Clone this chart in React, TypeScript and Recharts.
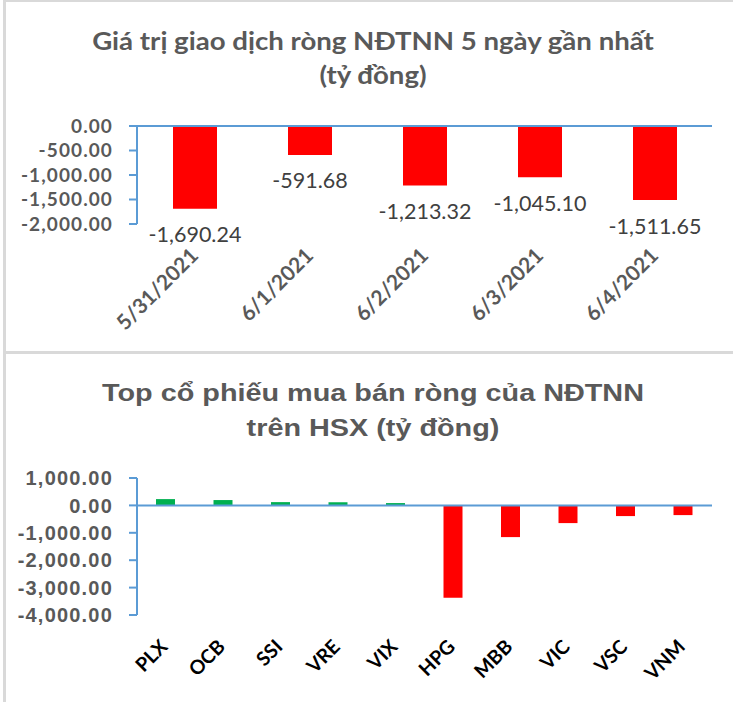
import { BarChart, Bar, XAxis, YAxis, ReferenceLine, LabelList, Cell } from "recharts";

// 5 ngày gần nhất
const days = ["5/31/2021", "6/1/2021", "6/2/2021", "6/3/2021", "6/4/2021"];
const dayValues = [-1690.24, -591.68, -1213.32, -1045.1, -1511.65];
const dayTicks = [0, -500, -1000, -1500, -2000];

// top cổ phiếu HSX
const stocks = ["PLX", "OCB", "SSI", "VRE", "VIX", "HPG", "MBB", "VIC", "VSC", "VNM"];
const stockValues = [230, 195, 120, 115, 85, -3372, -1157, -646, -390, -354];
const stockTicks = [1000, 0, -1000, -2000, -3000, -4000];

const dayData = days.map((d, i) => ({ date: d, value: dayValues[i] }));
const stockData = stocks.map((s, i) => ({ code: s, value: stockValues[i] }));

const AXIS = "#5b9bd5";
const GREY = "#595959";
const fmt = (v: number) =>
  v.toLocaleString("en-US", { minimumFractionDigits: 2, maximumFractionDigits: 2 });

const DateTick = (props: any) => {
  const { x, y, payload } = props;
  const ax = x + 5;
  const ay = y + 33;
  return (
    <text
      x={ax}
      y={ay}
      textAnchor="end"
      transform={`rotate(-45, ${ax}, ${ay})`}
      fill={GREY}
      fontSize={21}
      fontWeight={700}
      fontFamily="Lato"
    >
      {payload.value}
    </text>
  );
};

const CodeTick = (props: any) => {
  const { x, y, payload } = props;
  const ax = x + 3;
  const ay = y + 33;
  return (
    <text
      x={ax}
      y={ay}
      textAnchor="end"
      transform={`rotate(-45, ${ax}, ${ay})`}
      fill="#000"
      fontSize={19.5}
      fontWeight={700}
      fontFamily="Lato"
    >
      {payload.value}
    </text>
  );
};

const ValueLabel = (props: any) => {
  const { x, y, width, height, value } = props;
  const bottom = Math.max(y, y + height);
  return (
    <text
      x={x + width / 2}
      y={bottom + 28}
      textAnchor="middle"
      dominantBaseline="middle"
      fill="#404040"
      fontSize={21.5}
      fontFamily="Lato"
    >
      {fmt(value)}
    </text>
  );
};

export default function App() {
  return (
    <div
      style={{
        position: "absolute",
        left: 0,
        top: 0,
        width: 733,
        height: 702,
        background: "#fff",
        overflow: "hidden",
      }}
    >
      {/* khung */}
      <div style={{ position: "absolute", left: 3, top: 0, width: 3, height: 702, background: "#d9d9d9" }} />
      <div style={{ position: "absolute", left: 3, top: 0, width: 730, height: 2, background: "#d9d9d9" }} />
      <div style={{ position: "absolute", left: 3, top: 351, width: 730, height: 3, background: "#d9d9d9" }} />

      <div
        style={{
          position: "absolute",
          left: 0,
          top: 24,
          width: 746,
          textAlign: "center",
          fontFamily: "Lato",
          fontWeight: 700,
          fontSize: 24,
          lineHeight: "34px",
          color: GREY,
          transform: "scaleX(1.15)",
        }}
      >
        Giá trị giao dịch ròng NĐTNN 5 ngày gần nhất
        <br />
        (tỷ đồng)
      </div>

      <div style={{ position: "absolute", left: 0, top: 0 }}>
        <BarChart width={733} height={351} data={dayData} margin={{ top: 126, right: 21, bottom: 0, left: 0 }}>
          <XAxis
            dataKey="date"
            axisLine={false}
            tickLine={false}
            tickSize={0}
            tickMargin={0}
            height={127}
            interval={0}
            tick={<DateTick />}
          />
          <YAxis
            domain={[-2000, 0]}
            ticks={dayTicks}
            interval={0}
            width={137}
            tickSize={8}
            tickMargin={16}
            axisLine={{ stroke: AXIS, strokeWidth: 2 }}
            tickLine={{ stroke: AXIS, strokeWidth: 2 }}
            tick={{ fill: GREY, fontSize: 19, fontWeight: 700, fontFamily: "Lato", letterSpacing: 1.1 }}
            tickFormatter={fmt}
          />
          <ReferenceLine y={0} stroke={AXIS} strokeWidth={2} />
          <Bar dataKey="value" fill="#ff0000" barSize={44} isAnimationActive={false}>
            <LabelList dataKey="value" content={<ValueLabel />} />
          </Bar>
        </BarChart>
      </div>

      <div
        style={{
          position: "absolute",
          left: 0,
          top: 375,
          width: 746,
          textAlign: "center",
          fontFamily: "Liberation Sans",
          fontWeight: 700,
          fontSize: 24,
          lineHeight: "35px",
          color: GREY,
          transform: "scaleX(1.2)",
        }}
      >
        Top cổ phiếu mua bán ròng của NĐTNN
        <br />
        trên HSX (tỷ đồng)
      </div>

      <div style={{ position: "absolute", left: 0, top: 354 }}>
        <BarChart width={733} height={348} data={stockData} margin={{ top: 124, right: 21, bottom: 0, left: 0 }}>
          <XAxis
            dataKey="code"
            axisLine={false}
            tickLine={false}
            tickSize={0}
            tickMargin={0}
            height={87}
            interval={0}
            tick={<CodeTick />}
          />
          <YAxis
            domain={[-4000, 1000]}
            ticks={stockTicks}
            interval={0}
            width={137}
            tickSize={8}
            tickMargin={16}
            axisLine={{ stroke: AXIS, strokeWidth: 2 }}
            tickLine={{ stroke: AXIS, strokeWidth: 2 }}
            tick={{
              fill: GREY,
              fontSize: 20,
              fontWeight: 700,
              fontFamily: "Liberation Sans",
              letterSpacing: 1.2,
            }}
            tickFormatter={fmt}
          />
          <Bar dataKey="value" barSize={19} isAnimationActive={false}>
            {stockData.map((d) => (
              <Cell key={d.code} fill={d.value >= 0 ? "#00b050" : "#ff0000"} />
            ))}
          </Bar>
          <ReferenceLine y={0} stroke={AXIS} strokeWidth={2} />
        </BarChart>
      </div>
    </div>
  );
}
